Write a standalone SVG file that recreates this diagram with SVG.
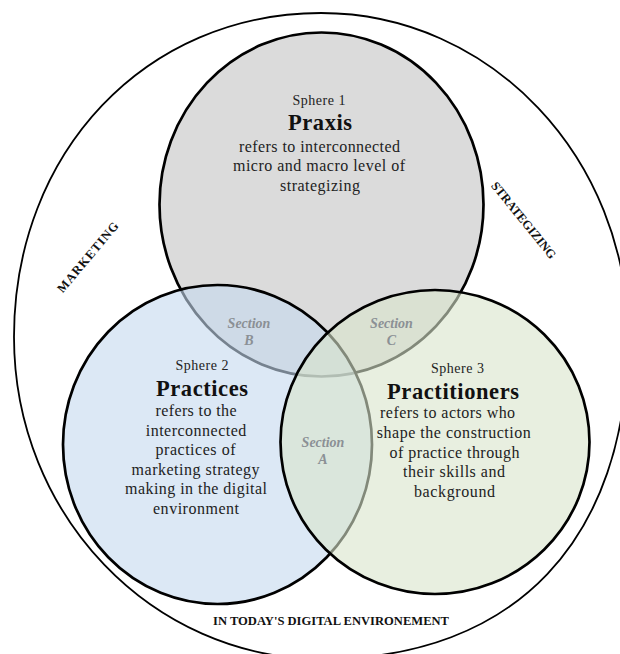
<svg xmlns="http://www.w3.org/2000/svg" width="620" height="654" viewBox="0 0 620 654">
  <style>
    .ring { fill: none; stroke: #000; stroke-width: 1.8; }
    .sph { stroke: #000; stroke-width: 2.7; }
    .s1 { fill: #dbdbdb; }
    .s2 { fill: #c5d9ee; fill-opacity: 0.6; }
    .s3 { fill: #d9e4cb; fill-opacity: 0.6; }
    text { font-family: "Liberation Serif", "Times New Roman", serif; fill: #222; text-anchor: middle; }
    .lbl { font-size: 14px; }
    .ttl { font-size: 22.5px; font-weight: bold; fill: #111; }
    .body { font-size: 16px; }
    .sec { font-size: 14px; font-weight: bold; font-style: italic; fill: #8b9095; }
    .ctx { font-size: 12.5px; font-weight: bold; fill: #111; }
  </style>

  <g id="context">
    <path class="ring" d="M321,13 C490.6,13 628,158.1 628,337 C628,539.9 514.8,659 322,659 C151.9,659 14,514.8 14,337 C14,152.3 146,13 321,13 Z"/>
    <text class="ctx" transform="translate(87.5,257) rotate(-50)" y="4.5" textLength="88" lengthAdjust="spacing">MARKETING</text>
    <text class="ctx" transform="translate(524,220) rotate(51)" y="4.5" textLength="95" lengthAdjust="spacing">STRATEGIZING</text>
    <text class="ctx" x="331" y="625" font-size="13.5" textLength="236" lengthAdjust="spacingAndGlyphs">IN TODAY'S DIGITAL ENVIRONEMENT</text>
  </g>

  <g id="sphere1">
    <ellipse class="sph s1" cx="321.5" cy="204.5" rx="162" ry="172"/>
    <text class="lbl" x="319" y="104.5" textLength="53" lengthAdjust="spacing">Sphere 1</text>
    <text class="ttl" x="320" y="130" textLength="64" lengthAdjust="spacing">Praxis</text>
    <text class="body" x="319.5" y="151.5" textLength="161" lengthAdjust="spacing">refers to interconnected</text>
    <text class="body" x="319" y="171" textLength="172" lengthAdjust="spacing">micro and macro level of</text>
    <text class="body" x="320" y="190.5" textLength="80" lengthAdjust="spacing">strategizing</text>
  </g>

  <g id="sphere2">
    <ellipse class="sph s2" cx="217.5" cy="444.5" rx="154.5" ry="159.5"/>
    <text class="lbl" x="202" y="369.5" textLength="53" lengthAdjust="spacing">Sphere 2</text>
    <text class="ttl" x="202" y="396" textLength="92" lengthAdjust="spacing">Practices</text>
    <text class="body" x="196" y="416" textLength="81" lengthAdjust="spacing">refers to the</text>
    <text class="body" x="196" y="435.6" textLength="100.5" lengthAdjust="spacing">interconnected</text>
    <text class="body" x="195.5" y="455.2" textLength="80" lengthAdjust="spacing">practices of</text>
    <text class="body" x="195.6" y="474.8" textLength="128" lengthAdjust="spacing">marketing strategy</text>
    <text class="body" x="196" y="494.4" textLength="142" lengthAdjust="spacing">making in the digital</text>
    <text class="body" x="196" y="514" textLength="86" lengthAdjust="spacing">environment</text>
  </g>

  <g id="sphere3">
    <ellipse class="sph s3" cx="435" cy="442" rx="154.5" ry="152"/>
    <text class="lbl" x="457.5" y="373" textLength="53" lengthAdjust="spacing">Sphere 3</text>
    <text class="ttl" x="453" y="398.5" textLength="132" lengthAdjust="spacing">Practitioners</text>
    <text class="body" x="447.6" y="418" textLength="135" lengthAdjust="spacing">refers to actors who</text>
    <text class="body" x="453.8" y="438" textLength="154" lengthAdjust="spacing">shape the construction</text>
    <text class="body" x="454.5" y="457.5" textLength="130" lengthAdjust="spacing">of practice through</text>
    <text class="body" x="454" y="477" textLength="102" lengthAdjust="spacing">their skills and</text>
    <text class="body" x="454.5" y="496.5" textLength="81" lengthAdjust="spacing">background</text>
  </g>

  <g id="sections">
    <g id="sectionB">
      <text class="sec" x="249" y="327.5">Section</text>
      <text class="sec" x="249" y="344.5">B</text>
    </g>
    <g id="sectionC">
      <text class="sec" x="391.5" y="327.5">Section</text>
      <text class="sec" x="391.5" y="344.5">C</text>
    </g>
    <g id="sectionA">
      <text class="sec" x="323" y="447">Section</text>
      <text class="sec" x="323" y="464">A</text>
    </g>
  </g>
</svg>
